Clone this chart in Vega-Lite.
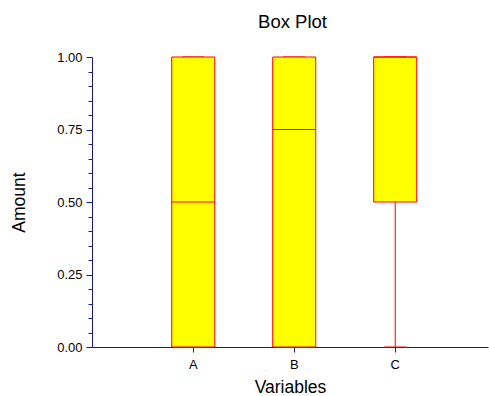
{
  "$schema": "https://vega.github.io/schema/vega-lite/v6.json",
  "width": 396,
  "height": 290,
  "autosize": "none",
  "padding": {"left": 92, "top": 57, "right": 1, "bottom": 49},
  "background": "white",
  "config": {
    "view": {"stroke": null},
    "font": "Liberation Sans",
    "axisY": {
      "tickCount": 20,
      "labelExpr": "abs(datum.value*4 - round(datum.value*4)) < 0.001 ? format(datum.value, '.2f') : ''",
      "labelOverlap": false, "labelFlush": false, "labelBound": false,
      "labelFont": "Liberation Sans", "labelFontSize": 13, "labelColor": "black", "labelPadding": 4,
      "tickSize": {"condition": {"test": "abs(datum.value*4 - round(datum.value*4)) < 0.001", "value": 6}, "value": 4},
      "titleFont": "Liberation Sans", "titleFontSize": 17.5, "titleFontWeight": "normal", "titleColor": "black", "titlePadding": 28,
      "domainColor": "#1a1a8c", "tickColor": "#1a1a8c", "grid": false
    }
  },
  "title": {"text": "Box Plot", "fontSize": 18.5, "font": "Liberation Sans", "fontWeight": "normal", "color": "black", "offset": 20, "dx": 2.5},
  "data": {"values": [
    {"Variable": "A", "min": 0, "q1": 0, "median": 0.5, "q3": 1, "max": 1},
    {"Variable": "B", "min": 0, "q1": 0, "median": 0.75, "q3": 1, "max": 1},
    {"Variable": "C", "min": 0, "q1": 0.5, "median": 1, "q3": 1, "max": 1}
  ]},
  "encoding": {
    "x": {
      "field": "Variable", "type": "nominal",
      "scale": {"paddingInner": 0.574, "paddingOuter": 0.7475, "align": 0.528},
      "axis": {
        "title": "Variables", "titleFont": "Liberation Sans", "titleFontSize": 17.5, "titleFontWeight": "normal", "titleColor": "black", "titlePadding": 7,
        "labelAngle": 0, "labelFont": "Liberation Sans", "labelFontSize": 13, "labelColor": "black", "labelPadding": 6,
        "domainColor": "#1a1a8c", "tickColor": "#1a1a8c", "tickSize": 5, "grid": false
      }
    }
  },
  "layer": [
    {
      "mark": {"type": "rule", "color": "#FF0000", "strokeWidth": 1, "opacity": 1},
      "encoding": {
        "y": {"field": "min", "type": "quantitative", "title": "Amount", "scale": {"domain": [0, 1], "nice": false, "zero": false}},
        "y2": {"field": "max"}
      }
    },
    {
      "mark": {"type": "tick", "color": "#FF0000", "size": 22, "thickness": 1, "orient": "horizontal", "opacity": 1},
      "encoding": {"y": {"field": "min", "type": "quantitative", "title": "Amount"}}
    },
    {
      "mark": {"type": "tick", "color": "#FF0000", "size": 22, "thickness": 1, "orient": "horizontal", "opacity": 1},
      "encoding": {"y": {"field": "max", "type": "quantitative", "title": "Amount"}}
    },
    {
      "mark": {"type": "bar", "fill": "#FFFF00", "stroke": "#FF0000", "strokeWidth": 1, "opacity": 1},
      "encoding": {"y": {"field": "q1", "type": "quantitative", "title": "Amount"}, "y2": {"field": "q3"}}
    },
    {
      "mark": {"type": "tick", "color": "#FF0000", "size": 43, "thickness": 1, "orient": "horizontal", "opacity": 1},
      "encoding": {"y": {"field": "median", "type": "quantitative", "title": "Amount"}}
    }
  ]
}
